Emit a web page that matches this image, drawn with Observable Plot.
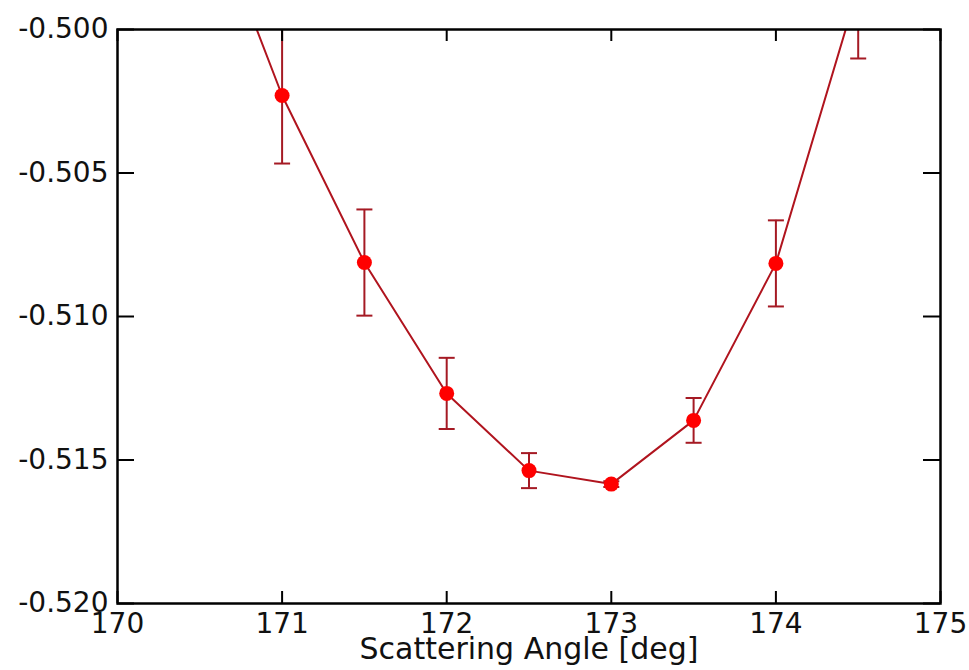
<!DOCTYPE html>
<html>
<head>
<meta charset="utf-8">
<script src="https://cdn.jsdelivr.net/npm/d3@7"></script>
<script src="https://cdn.jsdelivr.net/npm/@observablehq/plot@0.6"></script>
<style>
  html, body { margin: 0; padding: 0; background: #fff; }
  #chart svg { display: block; }
</style>
</head>
<body>
<div id="chart"></div>
<script>
// Data
const angles = [170.5, 171, 171.5, 172, 172.5, 173, 173.5, 174, 174.5];
const values = [-0.49484, -0.50230, -0.50812, -0.51268, -0.51537, -0.51584, -0.51362, -0.50815, -0.49854];
const errors = [0.0030, 0.00237, 0.00185, 0.00124, 0.00061, 0.0001, 0.00078, 0.0015, 0.00247];
const xTicks = [170, 171, 172, 173, 174, 175];
const yTicks = [-0.520, -0.515, -0.510, -0.505, -0.500];
const xLabel = "Scattering Angle [deg]";

const data = angles.map((a, i) => ({x: a, y: values[i], lo: values[i] - errors[i], hi: values[i] + errors[i]}));

const W = 969, H = 670;
const mL = 117, mR = 29, mT = 29, mB = 67;
const plotW = W - mL - mR, plotH = H - mT - mB;
const font = "DejaVu Sans, sans-serif";
const lineColor = "#b0141e";
const errColor = "#a51a24";

const capSymbol = {
  draw(context, size) {
    const w = 8;
    context.moveTo(-w, 0);
    context.lineTo(w, 0);
  }
};

const chart = Plot.plot({
  width: W,
  height: H,
  marginLeft: mL,
  marginRight: mR,
  marginTop: mT,
  marginBottom: mB,
  style: {fontFamily: font, background: "#fff", color: "#111"},
  x: {domain: [170, 175]},
  y: {domain: [-0.520, -0.500]},
  marks: [
    Plot.line(data, {x: "x", y: "y", stroke: lineColor, strokeWidth: 2, clip: true}),
    Plot.ruleX(data, {x: "x", y1: "lo", y2: "hi", stroke: errColor, strokeWidth: 2, clip: true}),
    Plot.dot(data, {x: "x", y: "lo", symbol: capSymbol, stroke: errColor, strokeWidth: 2, fill: "none", clip: true}),
    Plot.dot(data, {x: "x", y: "hi", symbol: capSymbol, stroke: errColor, strokeWidth: 2, fill: "none", clip: true}),
    Plot.dot(data, {x: "x", y: "y", r: 7.5, fill: "#ff0000", stroke: "none", clip: true}),
    // inward ticks
    Plot.tickX(xTicks, {x: d => d, insetTop: plotH - 12, stroke: "#000", strokeWidth: 2}),
    Plot.tickX(xTicks, {x: d => d, insetBottom: plotH - 12, stroke: "#000", strokeWidth: 2}),
    Plot.tickY(yTicks, {y: d => d, insetRight: plotW - 17, stroke: "#000", strokeWidth: 2}),
    Plot.tickY(yTicks, {y: d => d, insetLeft: plotW - 17, stroke: "#000", strokeWidth: 2}),
    Plot.frame({stroke: "#000", strokeWidth: 2.5}),
    Plot.axisX({ticks: xTicks, tickSize: 0, tickPadding: 10, tickFormat: d => String(d), fontSize: 28, label: null}),
    Plot.axisY({ticks: yTicks, tickSize: 0, tickPadding: 9, tickFormat: d => d.toFixed(3), fontSize: 28, label: null}),
    Plot.text([xLabel], {text: d => d, frameAnchor: "bottom", lineAnchor: "top", dy: 34, fontSize: 30, fill: "#111"})
  ]
});

document.getElementById("chart").appendChild(chart);
</script>
</body>
</html>
